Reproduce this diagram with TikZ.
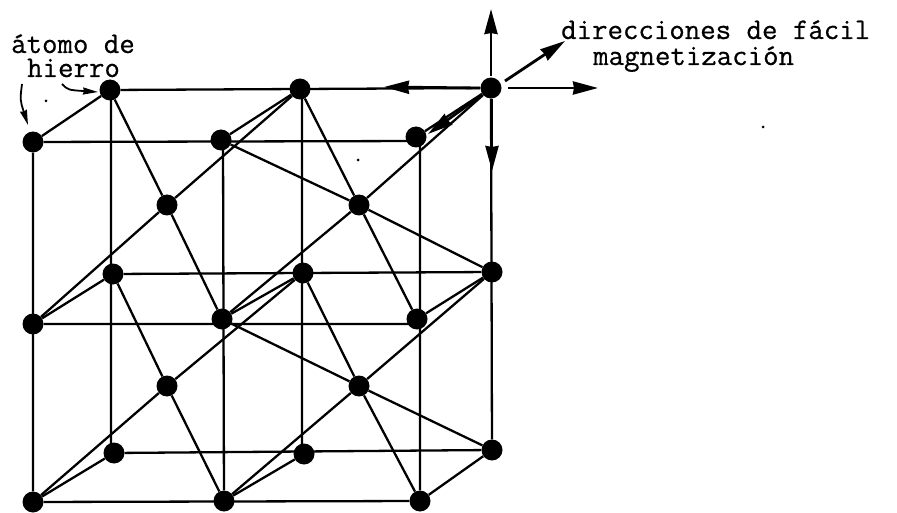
\documentclass[tikz,border=0pt]{standalone}
\usepackage{fontspec}
\setmonofont[FakeBold=0.6]{Latin Modern Mono}
\usetikzlibrary{arrows.meta}
\tikzset{
  atom/.style={circle,fill=black,inner sep=0pt,minimum size=21pt},
  lbl/.style={inner sep=0pt,anchor=base west,font=\ttfamily\fontsize{30}{30}\selectfont},
  bond/.style={line width=2.3pt,black},
  dirarrow/.style={line width=2.8pt,black,-{Stealth[length=25pt,width=13pt,inset=1pt]}},
  noteline/.style={line width=1.8pt,black,-{Stealth[length=15pt,width=7pt,inset=1pt]}},
  speck/.style={circle,fill=black,inner sep=0pt,minimum size=3pt}
}
\begin{document}
\begin{tikzpicture}[x=1pt,y=-1pt]
\useasboundingbox (0,0) rectangle (897,513);
% front face
\node[atom] (f00) at (33,142) {};
\node[atom] (f10) at (221,140) {};
\node[atom] (f20) at (416,137) {};
\node[atom] (f01) at (33,324) {};
\node[atom] (f11) at (222,319) {};
\node[atom] (f21) at (417,319) {};
\node[atom] (f02) at (33,502) {};
\node[atom] (f12) at (224,501) {};
\node[atom] (f22) at (420,501) {};
% back face
\node[atom] (b00) at (110,90) {};
\node[atom] (b10) at (300,89) {};
\node[atom] (b20) at (491,88) {};
\node[atom] (b01) at (113,274) {};
\node[atom] (b11) at (303,273) {};
\node[atom] (b21) at (492,272) {};
\node[atom] (b02) at (114,453) {};
\node[atom] (b12) at (304,454) {};
\node[atom] (b22) at (492,450) {};
% body centres
\node[atom] (c00) at (167,205) {};
\node[atom] (c10) at (359,205) {};
\node[atom] (c01) at (167,386) {};
\node[atom] (c11) at (359,386) {};
% line corners
\coordinate (t1) at (223,141);
\coordinate (t2) at (420,141);
\coordinate (m1) at (223,324);
\coordinate (m2) at (420,324);
\coordinate (d0) at (111,90);
\coordinate (d1) at (111,453);
\coordinate (e0) at (302,89);
\coordinate (e1) at (302,454);
\draw[bond] (f00)--(t2) (f01)--(m2) (f02)--(f22);
\draw[bond] (b00)--(b20) (b01)--(b21) (b02)--(b22);
\draw[bond] (f00)--(f02) (t1)--(f12) (t2)--(f22);
\draw[bond] (d0)--(d1) (e0)--(e1) (b20)--(b22);
\draw[bond] (f00)--(b00) (f10)--(b10) (f20)--(b20);
\draw[bond] (f01)--(b01) (f11)--(b11) (f21)--(b21);
\draw[bond] (f02)--(b02) (f12)--(b12) (f22)--(b22);
% body diagonals
\draw[bond] (b00)--(c00)--(f11) (b10)--(c10)--(f21);
\draw[bond] (b01)--(c01)--(f12) (b11)--(c11)--(f22);
\draw[bond] (f01)--(c00)--(b10) (f11)--(c10)--(b20);
\draw[bond] (f02)--(c01)--(b11) (f12)--(c11)--(b21);
\draw[bond] (f10)--(c10)--(b21) (f11)--(c11)--(b22);
% easy directions
\coordinate (uA) at (491,76); \coordinate (uB) at (491,9);
\coordinate (lA) at (480,88); \coordinate (lB) at (384,87);
\coordinate (rA) at (508,88); \coordinate (rB) at (598,88);
\coordinate (dA) at (492,99); \coordinate (dB) at (492,171);
\coordinate (nA) at (505,81); \coordinate (nB) at (565,41);
\coordinate (sA) at (482,95); \coordinate (sB) at (428,134);
\draw[dirarrow] (uA)--(uB);
\draw[dirarrow] (lA)--(lB);
\draw[dirarrow] (rA)--(rB);
\draw[dirarrow] (dA)--(dB);
\draw[dirarrow] (nA)--(nB);
\draw[dirarrow] (sA)--(sB);
% labels
\node[lbl] (t1l) at (11,53) {átomo de};
\node[lbl] (t2l) at (27,77) {hierro};
\node[lbl] (t3l) at (561,39) {direcciones de fácil};
\node[lbl] (t4l) at (593,65) {magnetización};
% note arrows
\coordinate (p1) at (22,84); \coordinate (p2) at (28,125);
\coordinate (q1) at (62,84); \coordinate (q2) at (98,92);
\draw[noteline] (p1) .. controls (20,100) .. (p2);
\draw[noteline] (q1) .. controls (68,90) .. (q2);
% specks
\node[speck] (s1) at (46,101) {};
\node[speck] (s2) at (358,160) {};
\node[speck] (s3) at (763,127) {};
\end{tikzpicture}
\end{document}
